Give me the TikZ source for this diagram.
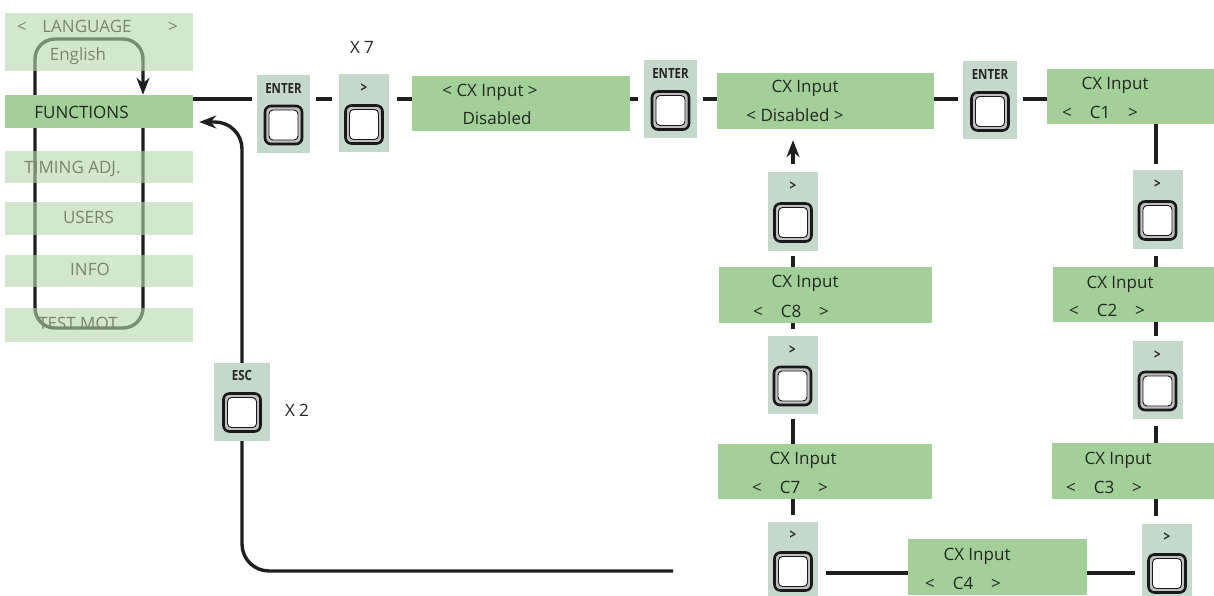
\documentclass[tikz,border=0pt]{standalone}
\usepackage{fontspec}
\setmainfont{Open Sans}
\usepackage{graphicx}
\usetikzlibrary{arrows.meta,backgrounds,positioning}
\definecolor{screenGreen}{RGB}{163,207,153}
\definecolor{menuBase}{RGB}{180,215,168}
\definecolor{panelGrey}{RGB}{196,216,203}
\definecolor{textFaded}{RGB}{118,134,116}
\begin{document}
\begin{tikzpicture}[x=1pt,y=-1pt]
\tikzset{
    cxScreen/.style={fill=screenGreen,inner sep=0pt},
    cxText/.style={font=\fontsize{17}{18}\selectfont,text=black!85,inner sep=0pt,anchor=base},
    menuItem/.style={fill=menuBase,fill opacity=0.6,minimum width=188pt,inner sep=0pt},
    menuText/.style={font=\fontsize{17}{18}\selectfont,text=textFaded,inner sep=0pt,anchor=base},
    keyPanel/.style={fill=panelGrey,minimum height=78pt,inner sep=0pt},
    keyLabel/.style={font=\bfseries\fontsize{14}{15}\selectfont,text=black!85,inner sep=0pt,anchor=base},
    keyOuter/.style={draw=black!90,line width=2.6pt,fill=gray!50,rounded corners=6pt,minimum width=37pt,minimum height=38pt,inner sep=0pt},
    keyInner/.style={draw=black!90,line width=0.9pt,fill=white,rounded corners=4pt,minimum width=29pt,minimum height=30pt,inner sep=0pt},
    flow/.style={draw=black!88,line width=3.4pt},
    flowTip/.style={-{Stealth[length=17pt,width=13pt]}}
}
\useasboundingbox (0,0) rectangle (1214,596);

% left menu
\node[menuItem,minimum height=58pt] (mLang) at (99,42) {};
\node[cxScreen,minimum width=188pt,minimum height=33pt] (mFunc) at (99,111.5) {};
\node[menuItem,minimum height=32pt] (mTim) at (99,167) {};
\node[menuItem,minimum height=33pt] (mUsers) at (99,218.5) {};
\node[menuItem,minimum height=32pt] (mInfo) at (99,271) {};
\node[menuItem,minimum height=34pt] (mTest) at (99,325) {};

\node[menuText] (mLangL) at (22,33) {<};
\node[menuText] (mLangT) at (87,33) {LANGUAGE};
\node[menuText] (mLangR) at (173,33) {>};
\node[menuText] (mLangV) at (78,61) {English};
\node[cxText] (mFuncT) at (81.5,119) {FUNCTIONS};
\node[menuText] (mTimT) at (72.5,174) {TIMING ADJ.};
\node[menuText] (mUsersT) at (88.5,223) {USERS};
\node[menuText] (mInfoT) at (90,275) {INFO};
\node[menuText] (mTestT) at (78,329) {TEST MOT};

% key panels: name/x/y/width/label
\foreach \pName/\px/\py/\pw/\pLab in {
    en1/283.5/114/53/ENTER, gt1/364/113.5/50/>,
    en2/670.5/99.5/53/ENTER, en3/990/100.5/54/ENTER,
    gtR1/1157.5/209.5/50/>, gtR2/1157.5/380/50/>, gtR3/1167/562.5/50/>,
    gtL1/793/211.5/50/>, gtL2/792.5/375/50/>, gtL3/793/560.5/50/>,
    esc/242/401.5/56/ESC}{
    \node[keyPanel,minimum width=\pw pt] (\pName) at (\px,\py) {};
    \node[keyLabel] (\pName-lab) at ([yshift=-18.5pt]\pName.north) {\scalebox{0.82}[1]{\pLab}};
    \node[keyOuter] (\pName-key) at ([yshift=-11pt]\pName.center) {};
    \node[keyInner] (\pName-in) at (\pName-key) {};
}

% CX input screens
\node[cxScreen,minimum width=218pt,minimum height=55pt] (s1) at (521,103.5) {};
\node[cxScreen,minimum width=217pt,minimum height=56pt] (s2) at (825.5,101) {};
\node[cxScreen,minimum width=172pt,minimum height=55pt] (sC1) at (1133,96.5) {};
\node[cxScreen,minimum width=162pt,minimum height=55pt] (sC2) at (1134,294.5) {};
\node[cxScreen,minimum width=163pt,minimum height=56pt] (sC3) at (1133.5,471) {};
\node[cxScreen,minimum width=179pt,minimum height=56pt] (sC4) at (997.5,567) {};
\node[cxScreen,minimum width=214pt,minimum height=55pt] (sC7) at (825,471.5) {};
\node[cxScreen,minimum width=213pt,minimum height=56pt] (sC8) at (825.5,295) {};

\node[cxText] (s1a) at (490,97) {< CX Input >};
\node[cxText] (s1b) at (497,125) {Disabled};
\node[cxText] (s2a) at (805,93) {CX Input};
\node[cxText] (s2b) at (795,122) {< Disabled >};
\node[cxText] (sC1a) at (1115,90) {CX Input};
\node[cxText] (sC1b) at (1100,119) {<\hspace{18pt}C1\hspace{18pt}>};
\node[cxText] (sC2a) at (1120,288) {CX Input};
\node[cxText] (sC2b) at (1107,316) {<\hspace{18pt}C2\hspace{18pt}>};
\node[cxText] (sC3a) at (1118,464) {CX Input};
\node[cxText] (sC3b) at (1104,493) {<\hspace{18pt}C3\hspace{18pt}>};
\node[cxText] (sC4a) at (977,560) {CX Input};
\node[cxText] (sC4b) at (963,589) {<\hspace{18pt}C4\hspace{18pt}>};
\node[cxText] (sC7a) at (803,464) {CX Input};
\node[cxText] (sC7b) at (790,493) {<\hspace{18pt}C7\hspace{18pt}>};
\node[cxText] (sC8a) at (805,287) {CX Input};
\node[cxText] (sC8b) at (791,317) {<\hspace{18pt}C8\hspace{18pt}>};

\node[cxText] (times7) at (362,54) {X 7};
\node[cxText] (times2) at (297,416) {X 2};

% rows and columns of the connectors
\coordinate (rowY) at (0,99);
\coordinate (rowB) at (0,573);
\coordinate (colL) at (793,0);
\coordinate (colR) at (1156,0);
\coordinate (lpNE) at (143,39);
\coordinate (lpSE) at (143,328);
\coordinate (lpSW) at (35,328);
\coordinate (lpNW) at (35,39);
\coordinate (escEnd) at (673,571);
\coordinate (funcIn) at ([yshift=-10.5pt]mFunc.east);

\begin{scope}[on background layer]
% menu loop
\draw[flow,rounded corners=20pt,flowTip] (mFunc.south -| lpSE) -- (lpSE) -- (lpSW) -- (lpNW) -- (lpNE) -- (mFunc.north -| lpNE);
% top row
\draw[flow,shorten >=5pt] (mFunc.east |- rowY) -- (en1.west |- rowY);
\draw[flow,shorten <=6pt,shorten >=7pt] (en1.east |- rowY) -- (gt1.west |- rowY);
\draw[flow,shorten <=8pt] (gt1.east |- rowY) -- (s1.west |- rowY);
\draw[flow,shorten >=6pt] (s1.east |- rowY) -- (en2.west |- rowY);
\draw[flow,shorten <=6pt] (en2.east |- rowY) -- (s2.west |- rowY);
\draw[flow,shorten >=5pt] (s2.east |- rowY) -- (en3.west |- rowY);
\draw[flow,shorten <=6pt] (en3.east |- rowY) -- (sC1.west |- rowY);
% right column
\draw[flow,shorten >=6pt] (sC1.south -| colR) -- (gtR1.north -| colR);
\draw[flow,shorten <=7pt] (gtR1.south -| colR) -- (sC2.north -| colR);
\draw[flow,shorten >=5pt] (sC2.south -| colR) -- (gtR2.north -| colR);
\draw[flow,shorten <=7pt] (gtR2.south -| colR) -- (sC3.north -| colR);
\draw[flow,shorten >=7pt] (sC3.south -| colR) -- (gtR3.north -| colR);
% bottom row
\draw[flow,shorten >=7pt] (sC4.east |- rowB) -- (gtR3.west |- rowB);
\draw[flow,shorten <=8pt] (gtL3.east |- rowB) -- (sC4.west |- rowB);
% left column
\draw[flow,shorten >=6pt] (sC7.south -| colL) -- (gtL3.north -| colL);
\draw[flow,shorten <=5pt] (gtL2.south -| colL) -- (sC7.north -| colL);
\draw[flow,shorten >=7pt] (sC8.south -| colL) -- (gtL2.north -| colL);
\draw[flow,shorten <=5pt] (gtL1.south -| colL) -- (sC8.north -| colL);
\draw[flow,flowTip,shorten <=8pt,shorten >=11pt] (gtL1.north -| colL) -- (s2.south -| colL);
% back with ESC
\draw[flow,rounded corners=27pt,flowTip,shorten >=6pt] (escEnd) -- (esc.center |- escEnd) -- (esc.center |- funcIn) -- (funcIn);
\end{scope}
\end{tikzpicture}
\end{document}
